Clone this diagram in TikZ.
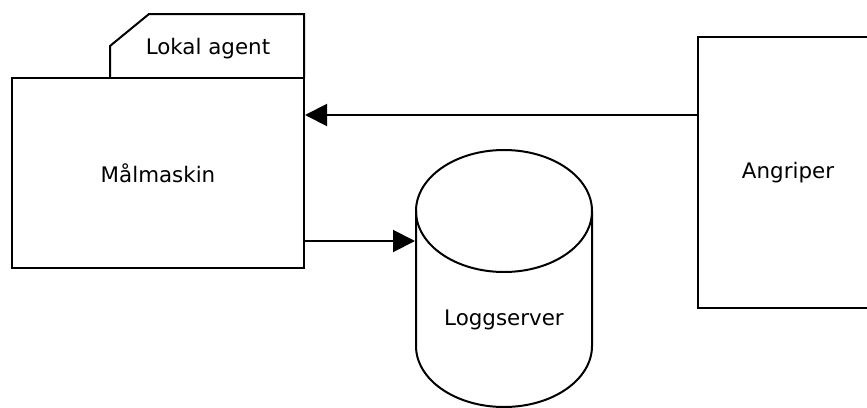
\documentclass[tikz,border=0pt]{standalone}
\usepackage{fontspec}
\setmainfont{DejaVu Sans}
\usetikzlibrary{arrows.meta}
\begin{document}
\begin{tikzpicture}[x=1pt,y=-1pt,line width=2pt,
  every node/.style={font=\fontsize{21.4}{25}\selectfont},
  boxnode/.style={draw,rectangle,inner sep=0pt},
  ghost/.style={rectangle,inner sep=0pt},
  arr/.style={-{Triangle[length=22pt,width=22pt]}}]
\useasboundingbox (0,0) rectangle (867,407);
% Malmaskin with tab
\node[boxnode,minimum width=292pt,minimum height=190pt] (mal) at (158,173) {Målmaskin};
\draw (110,78) -- (110,46) -- (149,14) -- (304,14) -- (304,78);
\node (tab) at (208,48.5) {Lokal agent};
% Angriper
\node[boxnode,minimum width=180pt,minimum height=271pt] (ang) at (788,172.5) {\raisebox{-2pt}{Angriper}};
% Loggserver cylinder
\node[ghost,minimum width=176pt,minimum height=257pt] (log) at (504,278.5) {};
\draw (504,211) ellipse [x radius=88, y radius=61];
\draw (416,211) -- (416,346) arc[start angle=180,end angle=360,x radius=88,y radius=-61] -- (592,211);
\node (logtext) at (504,320) {Loggserver};
% connectors
\draw[arr] (ang.west |- 0,115) -- (mal.east |- 0,115);
\draw[arr] (mal.east |- 0,241) -- (log.west |- 0,241);
\end{tikzpicture}
\end{document}
